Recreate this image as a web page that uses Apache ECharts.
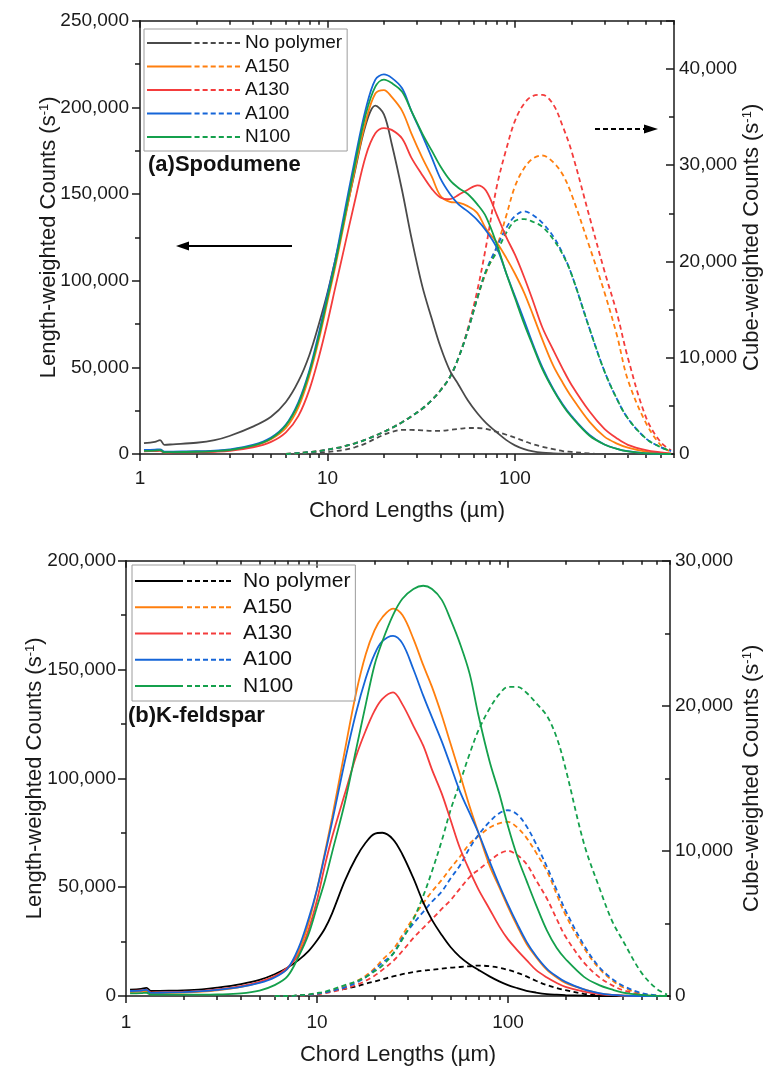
<!DOCTYPE html>
<html>
<head>
<meta charset="utf-8">
<script src="https://cdn.jsdelivr.net/npm/echarts@6/dist/echarts.min.js"></script>
<style>
  html, body { margin: 0; padding: 0; background: #fff; }
  #chart { width: 771px; height: 1067px; }
</style>
</head>
<body>
<div id="chart"></div>
<script>
// chord length bins (µm), shared by both panels
const chord = [1.05, 1.2, 1.28, 1.35, 1.5, 2, 2.5, 3, 4, 5, 6, 7, 8, 9, 10, 11, 12, 14, 16, 18, 20, 22, 25, 28, 32, 36, 40, 45, 50, 56, 63, 70, 80, 90, 100, 112, 125, 140, 160, 180, 200, 250, 300, 350, 400, 500, 600, 680];
const seriesNames = ['No polymer', 'A150', 'A130', 'A100', 'N100'];
const xMajorTicks = [1, 10, 100];
const xMinorTicks = [2, 3, 4, 5, 6, 7, 8, 9, 20, 30, 40, 50, 60, 70, 80, 90, 200, 300, 400, 500, 600, 700];

// (a) Spodumene - length-weighted counts (left axis)
const spodNoPolymerLen = [6300, 7000, 8000, 5300, 5600, 6500, 8000, 10400, 15800, 21500, 30000, 42000, 57000, 75000, 93000, 112000, 130000, 163000, 190000, 201000, 196000, 179000, 152000, 125000, 97000, 78000, 62000, 48000, 40000, 31000, 23500, 18000, 12500, 8000, 5000, 2800, 1500, 800, 400, 150, 50, 0, 0, 0, 0, 0, 0, 0];
const spodA150Len = [2000, 2200, 2300, 1100, 1200, 1300, 1600, 2200, 4500, 8500, 15000, 27000, 45000, 66000, 88000, 108000, 128000, 164000, 192000, 208000, 210000, 206000, 198000, 185000, 171000, 160000, 149000, 145500, 145000, 143000, 139000, 130000, 122000, 113000, 104000, 93000, 80000, 66000, 51000, 41000, 33000, 18500, 10000, 6000, 3700, 1400, 400, 100];
const spodA130Len = [1500, 1700, 1800, 800, 900, 1000, 1300, 1800, 3800, 7000, 12500, 22000, 37000, 56000, 76000, 96000, 114000, 146000, 172000, 185000, 188000, 187000, 182000, 171000, 161000, 153000, 148000, 147000, 149500, 152500, 155000, 152000, 138000, 125000, 115000, 102000, 88000, 73000, 60000, 49000, 40000, 24500, 14500, 9000, 5300, 2200, 900, 300];
const spodA100Len = [2300, 2500, 2700, 1300, 1400, 1600, 2000, 2600, 5200, 9500, 17000, 30000, 48000, 70000, 92000, 112000, 133000, 170000, 199000, 216000, 219000, 217000, 211000, 198000, 184000, 171000, 159000, 150000, 144000, 140000, 135000, 129000, 119000, 104000, 91000, 77000, 63000, 50000, 37500, 28500, 22000, 11000, 5500, 3000, 1600, 400, 100, 0];
const spodN100Len = [1800, 2000, 2200, 1000, 1100, 1300, 1700, 2300, 4800, 9000, 16500, 29000, 47000, 68000, 90000, 110000, 130000, 167000, 196000, 212000, 216000, 214000, 209000, 198000, 185000, 175000, 166000, 158000, 153500, 150000, 144000, 137000, 121000, 104000, 90000, 75000, 62000, 49000, 37000, 28000, 21500, 10500, 5500, 2900, 1500, 350, 50, 0];

// (a) Spodumene - cube-weighted counts (right axis)
const spodNoPolymerCube = [null, null, null, null, null, null, null, null, null, null, 0, 50, 100, 150, 200, 300, 400, 700, 1100, 1600, 2000, 2300, 2500, 2500, 2450, 2400, 2400, 2500, 2600, 2700, 2700, 2600, 2300, 2000, 1700, 1350, 1000, 750, 500, 300, 220, 60, 0, 0, 0, 0, 0, 0];
const spodA150Cube = [null, null, null, null, null, null, null, null, null, null, 0, 100, 200, 300, 450, 600, 750, 1100, 1500, 1900, 2300, 2700, 3300, 3900, 4700, 5600, 6600, 8000, 10000, 12800, 16200, 18800, 21500, 24800, 27800, 29700, 30700, 31000, 30300, 29000, 27000, 21500, 16800, 12300, 7700, 3200, 900, 200];
const spodA130Cube = [null, null, null, null, null, null, null, null, null, null, 0, 100, 200, 300, 450, 600, 750, 1100, 1500, 1900, 2300, 2700, 3300, 3900, 4700, 5600, 6600, 8000, 10000, 13000, 17000, 21500, 27800, 31700, 34600, 36400, 37200, 37300, 36300, 34000, 31500, 24600, 19000, 14600, 10000, 3800, 1200, 400];
const spodA100Cube = [null, null, null, null, null, null, null, null, null, null, 0, 100, 200, 300, 450, 600, 750, 1100, 1500, 1900, 2300, 2700, 3300, 3900, 4700, 5600, 6600, 8000, 10000, 12800, 16200, 19000, 21500, 23500, 24700, 25200, 24800, 24000, 22600, 20800, 18700, 13000, 8600, 5700, 3700, 1600, 700, 300];
const spodN100Cube = [null, null, null, null, null, null, null, null, null, null, 0, 100, 200, 300, 450, 600, 750, 1100, 1500, 1900, 2300, 2700, 3300, 3900, 4700, 5600, 6600, 8000, 10000, 12800, 16200, 19000, 21000, 23000, 24200, 24400, 24100, 23600, 22300, 20700, 18700, 13000, 8600, 5700, 3700, 1600, 700, 300];

// (b) K-feldspar - length-weighted counts (left axis)
const felsNoPolymerLen = [2900, 3300, 3700, 2300, 2400, 2600, 3000, 3800, 5500, 7400, 10000, 13000, 16500, 20500, 25500, 31000, 38000, 53000, 63500, 70500, 74500, 75000, 72000, 65000, 54000, 43000, 35000, 28000, 22500, 18000, 14500, 12000, 9000, 6700, 5000, 3600, 2400, 1600, 900, 600, 400, 150, 0, 0, 0, 0, 0, 0];
const felsA150Len = [1800, 2000, 2200, 1200, 1300, 1600, 2000, 2600, 4200, 6300, 9000, 12500, 20500, 33000, 49000, 66000, 82000, 113000, 139000, 157000, 168000, 174000, 178000, 175000, 164000, 152000, 142000, 129000, 116000, 102000, 87000, 75000, 60000, 50000, 41000, 32000, 24000, 18000, 12000, 8500, 6000, 3000, 1200, 500, 200, 0, 0, 0];
const felsA130Len = [2300, 2600, 2900, 1600, 1700, 2000, 2400, 3000, 4500, 6500, 9000, 13000, 19000, 30000, 44000, 60000, 73000, 93000, 110000, 122000, 131000, 136500, 139500, 134000, 124000, 115000, 104000, 93000, 81000, 68000, 57500, 49000, 40000, 32000, 26000, 21000, 16500, 12000, 8500, 6000, 4200, 2000, 900, 450, 200, 0, 0, 0];
const felsA100Len = [2300, 2500, 2800, 1400, 1500, 1800, 2200, 2800, 4200, 6000, 8500, 12500, 22000, 35000, 49000, 65000, 80000, 108000, 130000, 146000, 157000, 163000, 165500, 162000, 150000, 138000, 128000, 117000, 106000, 94000, 84000, 75000, 62000, 51000, 42000, 33000, 25000, 18500, 12500, 9000, 6500, 3000, 1300, 500, 200, 0, 0, 0];
const felsN100Len = [1200, 1300, 1500, 600, 600, 600, 600, 700, 1200, 2500, 5000, 9000, 18000, 28000, 41000, 53000, 66000, 89000, 113000, 134000, 152000, 163000, 175000, 182500, 187000, 188500, 187000, 182000, 173000, 162000, 148000, 129000, 108000, 93000, 78000, 64000, 53000, 42000, 30000, 22000, 17000, 8800, 5000, 3000, 1600, 500, 100, 0];

// (b) K-feldspar - cube-weighted counts (right axis)
const felsNoPolymerCube = [null, null, null, null, null, null, null, null, null, null, 0, 0, 30, 80, 150, 250, 350, 500, 650, 850, 1000, 1150, 1350, 1500, 1650, 1750, 1800, 1880, 1950, 2000, 2050, 2100, 2050, 1950, 1800, 1600, 1350, 1050, 750, 550, 400, 150, 50, 0, 0, 0, 0, 0];
const felsA150Cube = [null, null, null, null, null, null, null, null, null, null, 0, 0, 30, 80, 160, 260, 380, 650, 1000, 1400, 1900, 2500, 3200, 4200, 5400, 6400, 7200, 8000, 8800, 9600, 10500, 11000, 11600, 11900, 12000, 11600, 10900, 9900, 8600, 7000, 5600, 3300, 1900, 1100, 600, 150, 30, 0];
const felsA130Cube = [null, null, null, null, null, null, null, null, null, null, 0, 0, 20, 60, 120, 200, 290, 500, 750, 1050, 1400, 1800, 2400, 3100, 4000, 4700, 5300, 6000, 6600, 7400, 8200, 8700, 9300, 9800, 10000, 9700, 9100, 8000, 6700, 5300, 4100, 2300, 1300, 750, 400, 100, 0, 0];
const felsA100Cube = [null, null, null, null, null, null, null, null, null, null, 0, 0, 30, 80, 150, 250, 350, 600, 900, 1300, 1800, 2300, 2900, 4000, 5000, 5800, 6500, 7200, 8100, 9000, 10200, 11100, 12000, 12600, 12800, 12500, 11700, 10500, 8900, 7300, 5900, 3500, 2000, 1200, 700, 200, 50, 0];
const felsN100Cube = [null, null, null, null, null, null, null, null, null, null, 0, 0, 50, 100, 200, 300, 450, 750, 1000, 1300, 1700, 2100, 2900, 3900, 5300, 6900, 8600, 10700, 12800, 14700, 16700, 18300, 19800, 20800, 21300, 21300, 20900, 20200, 19300, 17800, 15700, 10500, 7500, 5200, 3800, 1600, 500, 100];

const colorsA = ['#4a4a4a', '#ff7f0e', '#f43c3c', '#1565d8', '#14a04c'];
const colorsB = ['#000000', '#ff7f0e', '#f43c3c', '#1565d8', '#14a04c'];

const FONT = "'Liberation Sans', Arial, sans-serif";
const INK = '#1a1a1a';
const axisLineStyle = { color: INK, width: 1.5 };
const fmt = v => echarts.format.addCommas(v);

function lineSeries(name, vals, color, dashed, xi, yi) {
  return {
    name: name,
    type: 'line',
    xAxisIndex: xi,
    yAxisIndex: yi,
    data: chord.map((x, i) => [x, vals[i]]).filter(p => p[1] != null),
    symbol: 'none',
    smooth: 0.35,
    lineStyle: { color: color, width: 1.8, type: dashed ? [5, 3.5] : 'solid' },
    itemStyle: { color: color },
    silent: true
  };
}

function xAxesFor(grid, labelMargin, nameGap) {
  const base = {
    type: 'log', logBase: 10, gridIndex: grid, min: 1, max: 705,
    splitLine: { show: false }, minorTick: { show: false }, minorSplitLine: { show: false }
  };
  return [
    Object.assign({}, base, {
      position: 'bottom',
      axisLine: { show: true, onZero: false, lineStyle: axisLineStyle },
      axisTick: { show: true, customValues: xMajorTicks, length: 7, lineStyle: axisLineStyle },
      axisLabel: { show: true, customValues: xMajorTicks, formatter: v => String(v), fontSize: 19, color: INK, fontFamily: FONT, margin: labelMargin },
      name: 'Chord Lengths (µm)', nameLocation: 'middle', nameGap: nameGap, nameMoveOverlap: false,
      nameTextStyle: { fontSize: 22, color: INK, fontFamily: FONT }
    }),
    Object.assign({}, base, {
      position: 'bottom',
      axisLine: { show: false, onZero: false },
      axisTick: { show: true, customValues: xMinorTicks, length: 4, lineStyle: axisLineStyle },
      axisLabel: { show: false }
    }),
    Object.assign({}, base, {
      position: 'top',
      axisLine: { show: true, onZero: false, lineStyle: axisLineStyle },
      axisTick: { show: true, inside: true, customValues: xMajorTicks, length: 7, lineStyle: axisLineStyle },
      axisLabel: { show: false }
    }),
    Object.assign({}, base, {
      position: 'top',
      axisLine: { show: false, onZero: false },
      axisTick: { show: true, inside: true, customValues: xMinorTicks, length: 4, lineStyle: axisLineStyle },
      axisLabel: { show: false }
    })
  ];
}

const nameRich = { sup: { fontSize: 13, verticalAlign: 'top', fontFamily: FONT, color: INK } };

function yAxisFor(grid, side, max, interval, labelMargin, name, nameGap, showMax) {
  return {
    type: 'value', gridIndex: grid, position: side, min: 0, max: max, interval: interval,
    axisLine: { show: true, onZero: false, lineStyle: axisLineStyle },
    axisTick: { show: true, inside: side === 'right', length: 8, lineStyle: axisLineStyle },
    minorTick: { show: true, splitNumber: 2, length: 5, lineStyle: axisLineStyle },
    splitLine: { show: false },
    minorSplitLine: { show: false },
    axisLabel: { formatter: fmt, fontSize: 19, color: INK, fontFamily: FONT, margin: labelMargin, showMaxLabel: showMax },
    name: name, nameLocation: 'middle', nameGap: nameGap, nameMoveOverlap: false,
    nameTextStyle: { fontSize: 22, color: INK, fontFamily: FONT, rich: nameRich }
  };
}

const iconA = 'path://M0,0H44V2H0Z M47,0h5v2h-5Z M55,0h5v2h-5Z M63,0h5v2h-5Z M71,0h5v2h-5Z M79,0h5v2h-5Z M87,0h5v2h-5Z';
const iconB = 'path://M0,0H48V2H0Z M52,0h5v2h-5Z M60,0h5v2h-5Z M68,0h5v2h-5Z M76,0h5v2h-5Z M84,0h5v2h-5Z M91,0h5v2h-5Z';

function legendFor(left, top, padding, width, icon, fontSize, rowH, colors, textPad) {
  return {
    orient: 'vertical', left: left, top: top, padding: padding,
    itemGap: 0, itemWidth: width, itemHeight: 2, icon: icon, symbolKeepAspect: false,
    borderColor: '#9c9c9c', borderWidth: 1, selectedMode: false,
    itemStyle: { borderWidth: 0 },
    textStyle: { fontSize: fontSize, lineHeight: rowH, fontFamily: FONT, color: '#111', padding: textPad },
    data: seriesNames.map((n, i) => ({ name: n, itemStyle: { color: colors[i], borderWidth: 0 } }))
  };
}

const lenA = [spodNoPolymerLen, spodA150Len, spodA130Len, spodA100Len, spodN100Len];
const cubeA = [spodNoPolymerCube, spodA150Cube, spodA130Cube, spodA100Cube, spodN100Cube];
const lenB = [felsNoPolymerLen, felsA150Len, felsA130Len, felsA100Len, felsN100Len];
const cubeB = [felsNoPolymerCube, felsA150Cube, felsA130Cube, felsA100Cube, felsN100Cube];

const series = [];
seriesNames.forEach((n, i) => {
  series.push(lineSeries(n, cubeA[i], colorsA[i], true, 0, 1));
  series.push(lineSeries(n, cubeB[i], colorsB[i], true, 4, 3));
});
seriesNames.forEach((n, i) => {
  series.push(lineSeries(n, lenA[i], colorsA[i], false, 0, 0));
  series.push(lineSeries(n, lenB[i], colorsB[i], false, 4, 2));
});

const chart = echarts.init(document.getElementById('chart'), null, { renderer: 'canvas' });
chart.setOption({
  animation: false,
  backgroundColor: '#fff',
  grid: [
    { left: 140, top: 20.7, right: 92, bottom: 613, containLabel: false },
    { left: 126, top: 560.7, right: 101, bottom: 69, containLabel: false }
  ],
  xAxis: [].concat(xAxesFor(0, 15, 46), xAxesFor(1, 17, 48)),
  yAxis: [
    yAxisFor(0, 'left', 250000, 50000, 11, 'Length-weighted Counts (s{sup|-1})', 80, true),
    yAxisFor(0, 'right', 45000, 10000, 5, 'Cube-weighted Counts (s{sup|-1})', 67, false),
    yAxisFor(1, 'left', 200000, 50000, 10, 'Length-weighted Counts (s{sup|-1})', 80, true),
    yAxisFor(1, 'right', 30000, 10000, 5, 'Cube-weighted Counts (s{sup|-1})', 71, true)
  ],
  legend: [
    legendFor(144, 29, [2.25, 5, 2.25, 3], 93, iconA, 19, 23.5, colorsA, 0),
    legendFor(132, 565, [3, 5, 2, 3], 96, iconB, 21, 26.2, colorsB, [0, 0, 0, 7])
  ],
  title: [
    { text: '(a)Spodumene', left: 148, top: 154, padding: 0,
      textStyle: { fontFamily: FONT, fontSize: 22, fontWeight: 'bold', color: '#111' } },
    { text: '(b)K-feldspar', left: 128, top: 705, padding: 0,
      textStyle: { fontFamily: FONT, fontSize: 22, fontWeight: 'bold', color: '#111' } }
  ],
  graphic: [
    { type: 'line', shape: { x1: 292, y1: 246, x2: 186, y2: 246 }, style: { stroke: '#000', lineWidth: 2 } },
    { type: 'polygon', shape: { points: [[176, 246], [189, 241.5], [189, 250.5]] }, style: { fill: '#000' } },
    { type: 'line', shape: { x1: 595, y1: 129, x2: 644, y2: 129 }, style: { stroke: '#000', lineWidth: 2, lineDash: [5, 3] } },
    { type: 'polygon', shape: { points: [[658, 129], [644, 124.5], [644, 133.5]] }, style: { fill: '#000' } }
  ],
  series: series
});
</script>
</body>
</html>
